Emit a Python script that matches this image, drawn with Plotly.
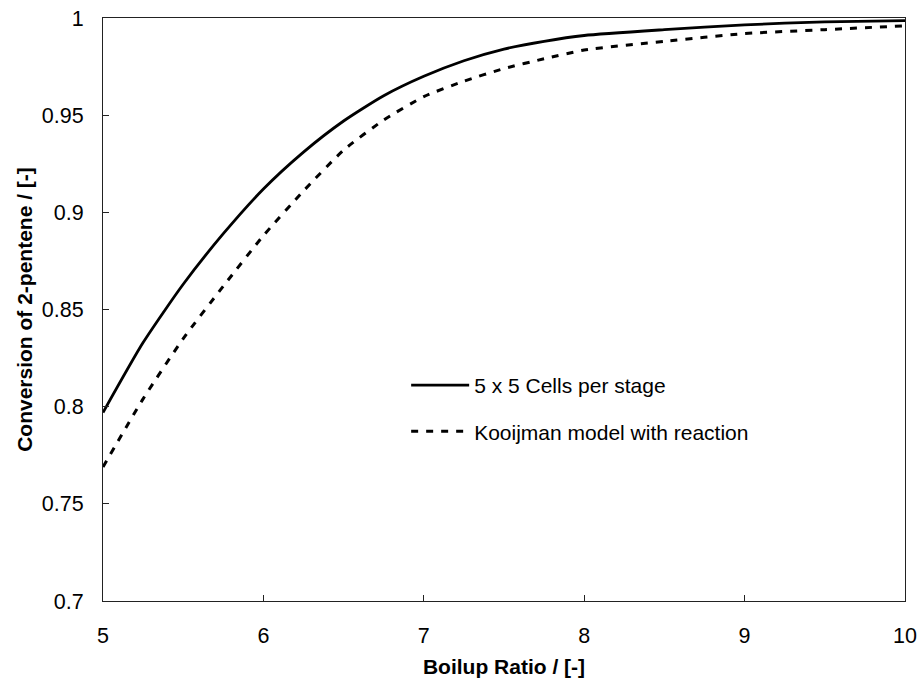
import plotly.graph_objects as go

# Boilup ratio values
boilup = [5.0, 5.25, 5.5, 5.75, 6.0, 6.25, 6.5, 6.75, 7.0, 7.25, 7.5, 7.75, 8.0, 8.5, 9.0, 9.5, 10.0]
# Conversion of 2-pentene, 5 x 5 cells per stage
conv_cells = [0.797, 0.833, 0.863, 0.889, 0.912, 0.931, 0.947, 0.960, 0.970, 0.978, 0.984, 0.988,
              0.991, 0.994, 0.9965, 0.998, 0.9986]
# Conversion of 2-pentene, Kooijman model with reaction
conv_kooijman = [0.769, 0.804, 0.835, 0.862, 0.888, 0.911, 0.932, 0.9475, 0.9595, 0.9675, 0.974, 0.979,
                 0.9835, 0.988, 0.992, 0.994, 0.996]

series_names = ["5 x 5 Cells per stage", "Kooijman model with reaction"]
x_ticks = [5, 6, 7, 8, 9, 10]
x_ticktext = ["5", "6", "7", "8", "9", "10"]
y_ticks = [0.7, 0.75, 0.8, 0.85, 0.9, 0.95, 1.0]
y_ticktext = ["0.7", "0.75", "0.8", "0.85", "0.9", "0.95", "1"]

FONT = "Liberation Sans, Arial, sans-serif"

fig = go.Figure()
fig.add_trace(go.Scatter(x=boilup, y=conv_cells, mode="lines", name=series_names[0],
                         line=dict(color="black", width=2.8, shape="spline", smoothing=0.6),
                         legendgroup="a"))
fig.add_trace(go.Scatter(x=boilup, y=conv_kooijman, mode="lines", name=series_names[1],
                         line=dict(color="black", width=3, dash="7px,8px", shape="spline", smoothing=0.6),
                         legendgroup="b"))

axis_common = dict(showgrid=False, zeroline=False, showline=True, linecolor="#222222", linewidth=1,
                   mirror=True, ticks="inside", ticklen=6, tickwidth=1, tickcolor="#222222",
                   automargin=False,
                   tickfont=dict(family=FONT, size=21.5, color="black"))

fig.update_layout(
    width=921, height=683,
    margin=dict(l=103, r=16, t=18, b=82),
    paper_bgcolor="white", plot_bgcolor="white",
    showlegend=True,
    legend=dict(x=0.378, y=0.405, xanchor="left", yanchor="top", bgcolor="rgba(0,0,0,0)",
                font=dict(family=FONT, size=21, color="black"), tracegroupgap=16,
                traceorder="grouped", itemwidth=58),
    xaxis=dict(range=[5, 10], tickvals=x_ticks, ticktext=x_ticktext, ticklabelstandoff=15,
               title=dict(text="<b>Boilup Ratio / [-]</b>", font=dict(family=FONT, size=21, color="black"),
                          standoff=12),
               **axis_common),
    yaxis=dict(range=[0.7, 1.0], tickvals=y_ticks, ticktext=y_ticktext, ticklabelstandoff=14,
               title=dict(text="<b>Conversion of 2-pentene / [-]</b>", font=dict(family=FONT, size=21, color="black"),
                          standoff=3),
               **axis_common),
)

fig.write_html("out.html")
